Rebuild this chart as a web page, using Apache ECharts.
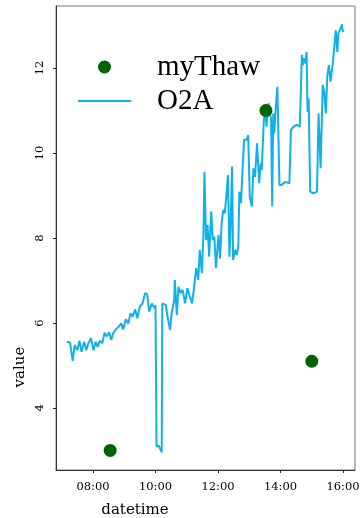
<!DOCTYPE html>
<html>
<head>
<meta charset="utf-8">
<script src="https://cdn.jsdelivr.net/npm/echarts@6/dist/echarts.min.js"></script>
<style>html,body{margin:0;padding:0;background:#fff}#c{width:360px;height:518px}</style>
</head>
<body>
<div id="c"></div>
<script>
const o2aTimes = ['07:10','07:16','07:21','07:25','07:30','07:34','07:38','07:43','07:47','07:51','07:56',
'08:01','08:05','08:09','08:13','08:18','08:22','08:26','08:31','08:35','08:39','08:44','08:49','08:54','08:58',
'09:03','09:08','09:12','09:16','09:21','09:25','09:30','09:35','09:40','09:44','09:48','09:53','09:58',
'10:00','10:02','10:06','10:09','10:12','10:13','10:15','10:20','10:23','10:28','10:31','10:36','10:37','10:41','10:44','10:48','10:52','10:57',
'11:01','11:05','11:10','11:14','11:18','11:22','11:25','11:29','11:32','11:34','11:37','11:40','11:43','11:47','11:50','11:53','11:56',
'12:01','12:04','12:07','12:10','12:13','12:17','12:19','12:22','12:24','12:27','12:29','12:33','12:36','12:39','12:41','12:44','12:47','12:50','12:52','12:55','12:58',
'13:01','13:05','13:08','13:11','13:15','13:19','13:22','13:24','13:28','13:31','13:33','13:37','13:40','13:42','13:44','13:46','13:48','13:51','13:54','13:56','13:58',
'14:02','14:09','14:17','14:20','14:25','14:31','14:37','14:41','14:43','14:45','14:48','14:50','14:52','14:54','14:57',
'15:03','15:10','15:13','15:17','15:21','15:24','15:27','15:30','15:33','15:36','15:40','15:43','15:46','15:49','15:51','15:54','15:58','15:59','16:01'];
const o2aValues = [5.55,5.54,5.11,5.48,5.36,5.58,5.32,5.56,5.36,5.52,5.64,
5.36,5.56,5.44,5.58,5.52,5.77,5.68,5.78,5.60,5.77,5.85,5.91,5.99,5.85,
6.09,5.99,6.23,6.15,6.32,6.11,6.38,6.46,6.70,6.68,6.27,6.46,6.35,
6.42,3.09,3.11,3.04,2.96,6.46,6.46,6.42,6.15,5.84,6.23,6.54,7.01,6.19,6.85,6.70,6.78,6.46,
6.82,6.66,6.46,6.82,7.29,7.01,7.72,7.17,8.07,9.56,7.95,8.31,7.56,8.62,7.95,8.03,7.29,
8.07,7.52,8.35,8.66,8.58,9.13,9.48,7.56,8.19,9.68,7.48,7.72,7.60,7.80,9.09,8.82,8.85,10.31,10.35,10.31,10.42,
8.97,8.74,9.64,9.44,10.23,9.29,9.76,9.60,10.78,11.01,10.62,11.17,11.21,10.78,8.74,10.93,10.46,11.09,11.56,10.38,9.25,
9.25,9.32,9.29,10.54,10.62,10.66,10.62,12.31,12.07,12.23,12.11,12.38,10.97,11.29,9.09,
9.05,9.09,10.93,9.64,11.60,11.44,10.93,11.84,12.07,11.68,12.07,12.46,12.89,12.38,12.82,12.89,13.03,12.89,12.85];
const thawTimes = ['08:33','13:32','15:00'];
const thawValues = [3.0, 11.0, 5.1];
const xTickLabels = ['08:00','10:00','12:00','14:00','16:00'];
const yTickValues = [4, 6, 8, 10, 12];
const xRange = ['06:49','16:23'];
const yRange = [2.54, 13.46];

// times are placed on a numeric axis measured in hours of the day
const toHours = t => { const [h, m] = t.split(':').map(Number); return h + m / 60; };
const o2aData = o2aTimes.map((t, i) => [toHours(t), o2aValues[i]]);
const thawData = thawTimes.map((t, i) => [toHours(t), thawValues[i]]);
const xTicks = xTickLabels.map(toHours);
const pad = n => String(n).padStart(2, '0');
const fmt = v => { const tot = Math.round(v * 60); return pad(Math.floor(tot / 60)) + ':' + pad(tot % 60); };

const chart = echarts.init(document.getElementById('c'), null, {renderer: 'canvas'});
const tickFont = {fontFamily: 'DejaVu Serif', fontSize: 11.5, color: '#000'};
chart.setOption({
  animation: false,
  backgroundColor: '#fff',
  grid: {left: 56, right: 5, top: 6, bottom: 48, show: true, borderColor: '#777', borderWidth: 1,
         containLabel: false, outerBoundsMode: 'none'},
  legend: {
    left: 78, top: 52, padding: 0, orient: 'vertical', itemWidth: 53, itemHeight: 13, itemGap: 4,
    textStyle: {fontFamily: 'Liberation Serif', fontSize: 29, color: '#000', lineHeight: 30, padding: [0, 0, 0, 21]},
    data: [
      {name: 'myThaw', icon: 'circle'},
      {name: 'O2A', icon: 'path://M0,0 H53 V2 H0 Z'}
    ]
  },
  xAxis: {
    type: 'value', min: toHours(xRange[0]), max: toHours(xRange[1]),
    axisLine: {show: true, onZero: false, lineStyle: {color: '#333', width: 1}}, splitLine: {show: false},
    axisTick: {show: true, length: 3, customValues: xTicks, lineStyle: {color: '#222'}},
    axisLabel: Object.assign({customValues: xTicks, margin: 11, formatter: v => fmt(v), hideOverlap: false}, tickFont)
  },
  yAxis: {
    type: 'value', min: yRange[0], max: yRange[1],
    axisLine: {show: true, onZero: false, lineStyle: {color: '#333', width: 1}}, splitLine: {show: false},
    axisTick: {show: true, length: 3, customValues: yTickValues, lineStyle: {color: '#222'}},
    axisLabel: Object.assign({customValues: yTickValues, margin: 10, rotate: 90}, tickFont)
  },
  graphic: [
    {type: 'text', x: 135, y: 510, style: {text: 'datetime', font: '15px "DejaVu Serif"', fill: '#000', textAlign: 'center', textVerticalAlign: 'middle'}},
    {type: 'text', x: 20, y: 367, rotation: Math.PI / 2, style: {text: 'value', font: '15px "DejaVu Serif"', fill: '#000', textAlign: 'center', textVerticalAlign: 'middle'}}
  ],
  series: [
    {name: 'O2A', type: 'line', data: o2aData, showSymbol: false, symbol: 'none',
     lineStyle: {color: '#10B0E8', width: 2}, itemStyle: {color: '#10B0E8'}, z: 2},
    {name: 'myThaw', type: 'scatter', data: thawData, symbol: 'circle', symbolSize: 13,
     itemStyle: {color: '#006400', opacity: 1}, z: 3}
  ]
});
</script>
</body>
</html>
